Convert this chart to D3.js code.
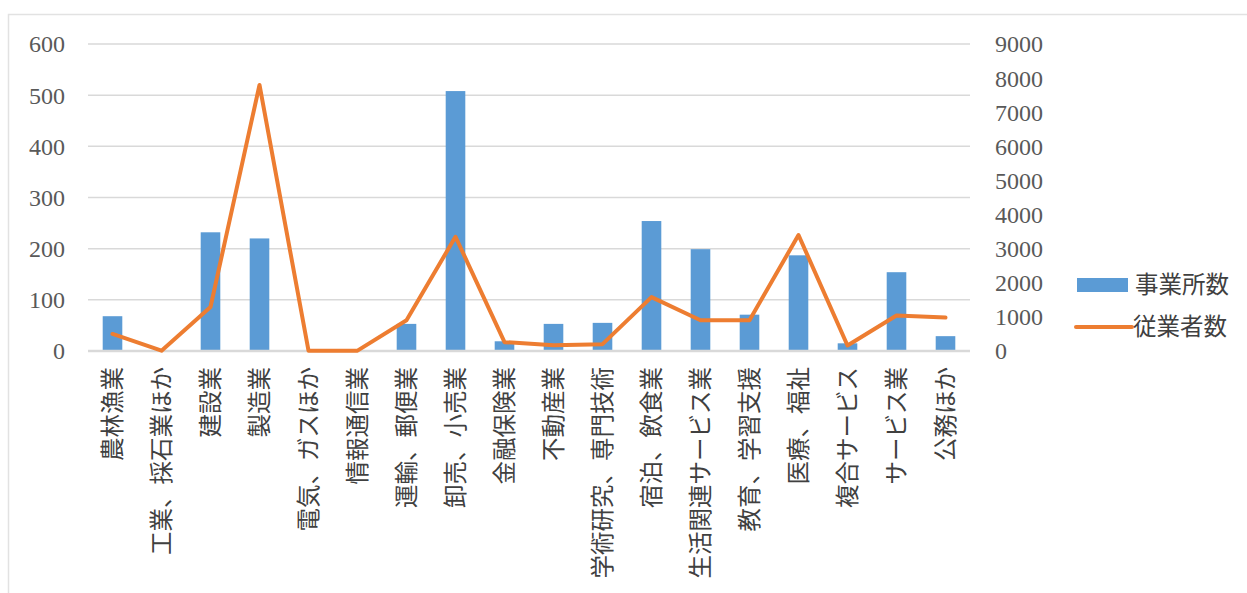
<!DOCTYPE html>
<meta charset="utf-8">
<style>
  body { margin: 0; background: #fff; }
  svg { display: block; }
  .tick-label { font-family: "Liberation Serif", "DejaVu Serif", serif; font-size: 24px; fill: #595959; }
  .cat-label { font-family: "Noto Sans CJK JP", sans-serif; font-size: 23.5px; fill: #404040; }
  .legend-label { font-family: "Noto Sans CJK JP", sans-serif; font-size: 23.5px; fill: #404040; }
</style>
<svg></svg>
<script src="https://cdn.jsdelivr.net/npm/d3@7"></script>
<script>

var categories = ["農林漁業", "工業、採石業ほか", "建設業", "製造業", "電気、ガスほか", "情報通信業",
                  "運輸、郵便業", "卸売、小売業", "金融保険業", "不動産業", "学術研究、専門技術",
                  "宿泊、飲食業", "生活関連サービス業", "教育、学習支援", "医療、福祉", "複合サービス",
                  "サービス業", "公務ほか"];

// 事業所数 (left axis)
var offices = [68, 0, 232, 220, 0, 0, 53, 508, 19, 53, 55, 254, 199, 71, 187, 15, 154, 29];

// 従業者数 (right axis)
var employees = [500, 10, 1290, 7800, 10, 10, 900, 3350, 260, 170, 200, 1580, 900, 900, 3400, 160, 1040, 980];

var leftTicks = [0, 100, 200, 300, 400, 500, 600],
    rightTicks = [0, 1000, 2000, 3000, 4000, 5000, 6000, 7000, 8000, 9000];

var seriesNames = ["事業所数", "従業者数"];

var width = 1247,
    height = 593,
    svg = d3.select("svg").attr("width", width).attr("height", height);

var x = d3.scaleBand()
    .domain(categories)
    .range([88, 970])
    .paddingInner(0.6)
    .paddingOuter(0.3);

var yL = d3.scaleLinear().domain([0, 600]).range([351, 44]),
    yR = d3.scaleLinear().domain([0, 9000]).range([351, 44]);

var cx = d => x(d) + x.bandwidth() / 2;

// chart frame
svg.append("rect")
    .attr("x", 8.5).attr("y", 14.5)
    .attr("width", width).attr("height", height)
    .attr("fill", "none")
    .attr("stroke", "#e2e2e2")
    .attr("stroke-width", 1.5);

// gridlines
svg.append("g").selectAll("line")
  .data(leftTicks.slice(1))
  .join("line")
    .attr("x1", 88).attr("x2", 970)
    .attr("y1", d => yL(d)).attr("y2", d => yL(d))
    .attr("stroke", "#d9d9d9")
    .attr("stroke-width", 1.5);

// left axis labels
svg.append("g").selectAll("text")
  .data(leftTicks)
  .join("text")
    .attr("class", "tick-label")
    .attr("x", 65)
    .attr("y", d => yL(d))
    .attr("dy", "0.35em")
    .attr("text-anchor", "end")
    .text(d => d);

// right axis labels
svg.append("g").selectAll("text")
  .data(rightTicks)
  .join("text")
    .attr("class", "tick-label")
    .attr("x", 995)
    .attr("y", d => yR(d))
    .attr("dy", "0.35em")
    .text(d => d);

// bars
svg.append("g").selectAll("rect")
  .data(categories)
  .join("rect")
    .attr("x", d => x(d))
    .attr("width", x.bandwidth())
    .attr("y", (d, i) => yL(offices[i]))
    .attr("height", (d, i) => yL(0) - yL(offices[i]))
    .attr("fill", "#5b9bd5");

// baseline
svg.append("line")
    .attr("x1", 88).attr("x2", 970)
    .attr("y1", yL(0)).attr("y2", yL(0))
    .attr("stroke", "#d9d9d9")
    .attr("stroke-width", 2.5);

// employees line
var line = d3.line()
    .x((d, i) => cx(categories[i]))
    .y(d => yR(d));

svg.append("path")
    .datum(employees)
    .attr("d", line)
    .attr("fill", "none")
    .attr("stroke", "#ed7d31")
    .attr("stroke-width", 4)
    .attr("stroke-linejoin", "round")
    .attr("stroke-linecap", "round");

// category labels, rotated -90 and anchored at the top
svg.append("g").selectAll("text")
  .data(categories)
  .join("text")
    .attr("class", "cat-label")
    .attr("transform", d => "translate(" + cx(d) + ",367) rotate(-90)")
    .attr("text-anchor", "end")
    .attr("dy", "0.35em")
    .text(d => d);

// legend
var legend = svg.append("g");

legend.append("rect")
    .attr("x", 1077).attr("y", 278)
    .attr("width", 51).attr("height", 14)
    .attr("fill", "#5b9bd5");

legend.append("line")
    .attr("x1", 1076).attr("x2", 1132)
    .attr("y1", 327).attr("y2", 327)
    .attr("stroke", "#ed7d31")
    .attr("stroke-width", 4)
    .attr("stroke-linecap", "round");

legend.selectAll("text")
  .data(seriesNames)
  .join("text")
    .attr("class", "legend-label")
    .attr("x", (d, i) => i ? 1133 : 1135)
    .attr("y", (d, i) => i ? 327 : 285)
    .attr("dy", "0.35em")
    .text(d => d);

</script>
